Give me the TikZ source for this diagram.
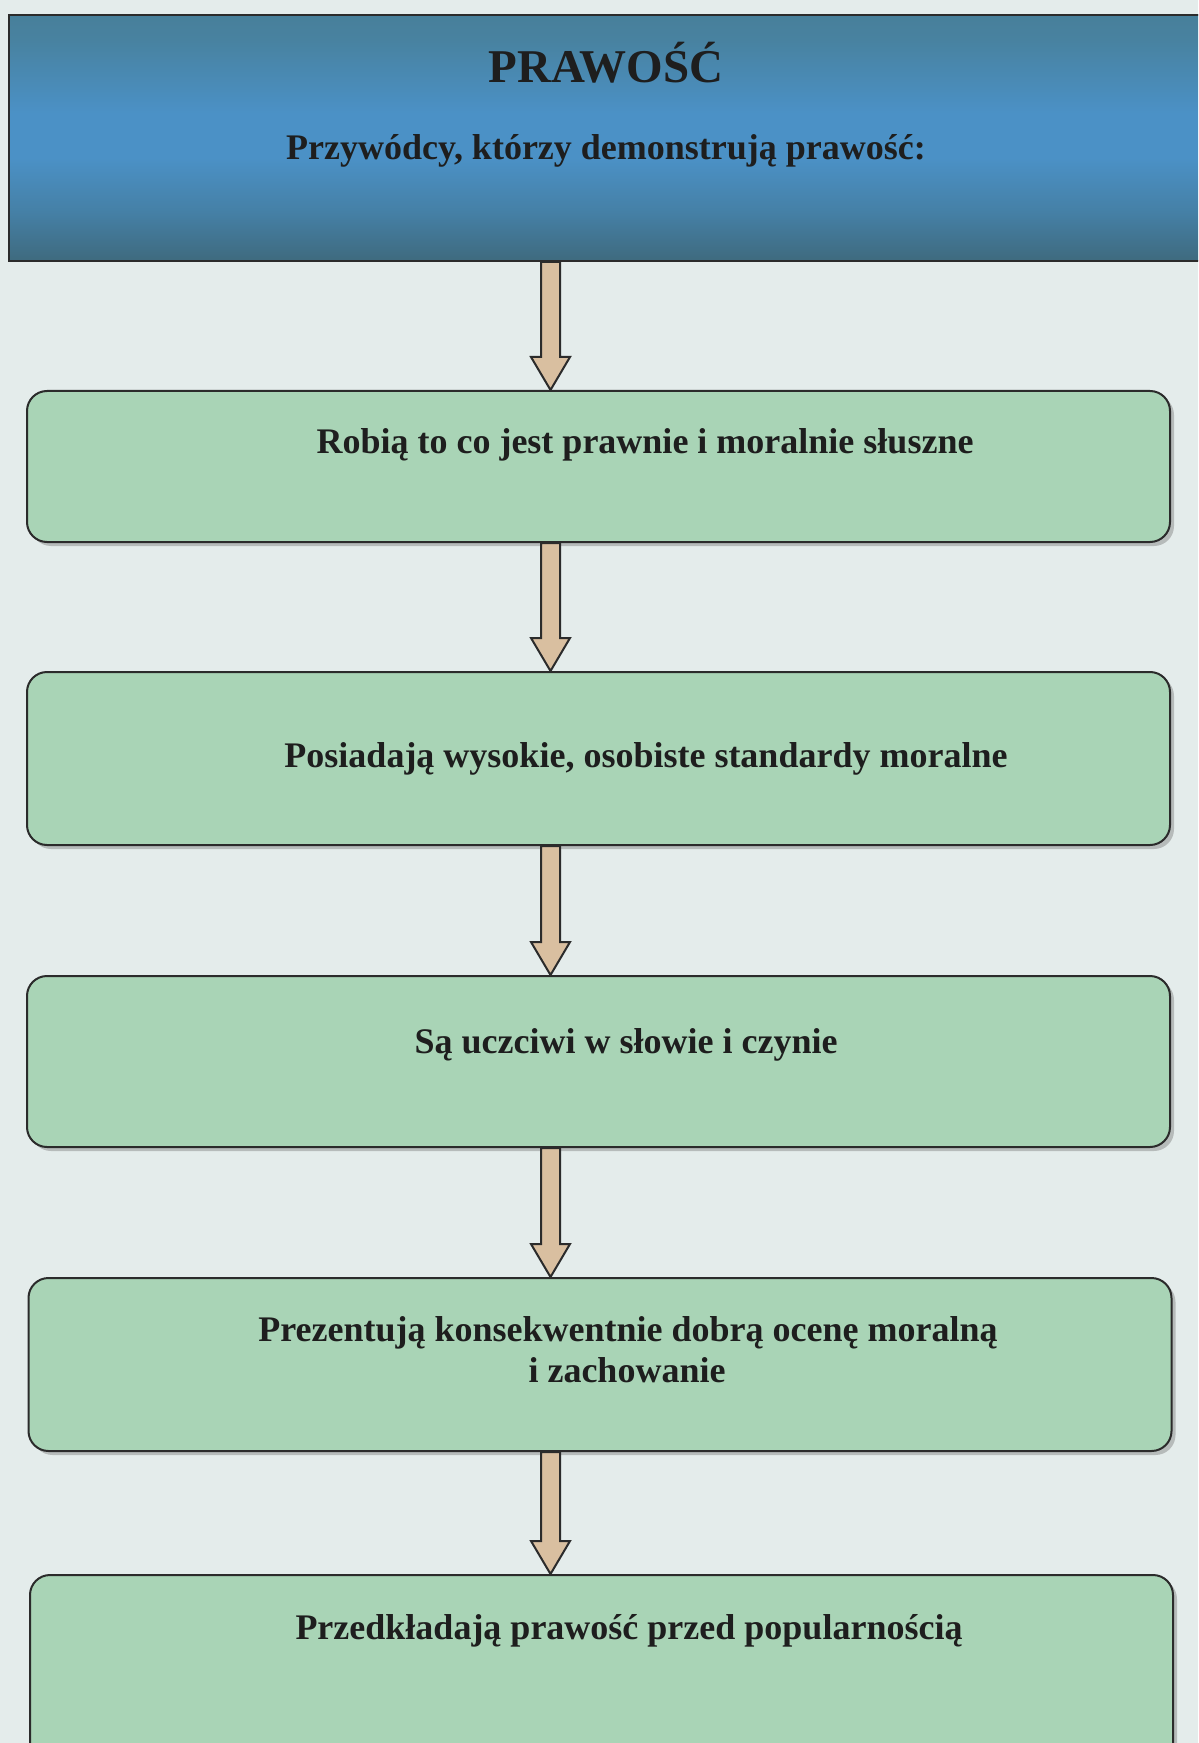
\documentclass[tikz,border=0pt]{standalone}
\usepackage{fontspec}
\setmainfont{Liberation Serif}
\usetikzlibrary{calc,shadows}

\definecolor{pagebg}{HTML}{E4ECEB}
\definecolor{boxgreen}{HTML}{A9D4B6}
\definecolor{edgedark}{HTML}{2B2B2B}
\definecolor{arrowtan}{HTML}{D9BFA0}
\definecolor{inkdark}{HTML}{1E1E1E}

% header gradient: muted teal at the top, bright blue band, dark slate below
\pgfdeclareverticalshading{headshade}{100bp}{%
  color(0bp)=(rgb,255:red,55;green,87;blue,97);
  color(14bp)=(rgb,255:red,58;green,92;blue,103);
  color(24bp)=(rgb,255:red,62;green,104;blue,122);
  color(35bp)=(rgb,255:red,69;green,128;blue,166);
  color(46bp)=(rgb,255:red,75;green,145;blue,198);
  color(55bp)=(rgb,255:red,75;green,145;blue,198);
  color(70bp)=(rgb,255:red,72;green,130;blue,160);
  color(85bp)=(rgb,255:red,70;green,122;blue,143);
  color(100bp)=(rgb,255:red,66;green,114;blue,132)}

\tikzset{
  greenbox/.style={draw=edgedark, line width=1pt, fill=boxgreen,
    rounded corners=10pt, minimum width=571.5pt, inner sep=0pt,
    drop shadow={shadow xshift=2pt, shadow yshift=-2pt, opacity=0.45}},
  headbox/.style={draw=edgedark, line width=1pt, shading=headshade,
    minimum width=603pt, minimum height=123pt, inner sep=0pt},
  tanarrow/.style={draw=edgedark, line width=1pt, fill=arrowtan, line join=miter},
  boxtext/.style={text=inkdark, font=\bfseries\fontsize{18pt}{20.5pt}\selectfont,
    inner sep=0pt, anchor=base},
  titletext/.style={text=inkdark, font=\bfseries\fontsize{23.5pt}{26pt}\selectfont,
    inner sep=0pt, anchor=base},
}

% broad downward arrow between two nodes, on the common axis (ax)
\newcommand\fatarrow[2]{%
  \filldraw[tanarrow] let \p1=(#1.south -| ax), \p2=(#2.north -| ax) in
    (\x1-4.75pt,\y1) -- (\x1-4.75pt,\y2+16.5pt) -- (\x1-9.75pt,\y2+16.5pt)
    -- (\x1,\y2) -- (\x1+9.75pt,\y2+16.5pt) -- (\x1+4.75pt,\y2+16.5pt)
    -- (\x1+4.75pt,\y1) -- cycle;}

\begin{document}
\begin{tikzpicture}[x=0.5pt, y=-0.5pt]
  \useasboundingbox (0,0) rectangle (1198,1743);
  \clip (0,0) rectangle (1198,1743);
  \fill[pagebg] (0,0) rectangle (1198,1743);

  \coordinate (ax) at (550.5,0);

  % header
  \node[headbox] (h) at (612,138) {};
  \node[titletext] (title) at (606,83) {PRAWOŚĆ};
  \node[boxtext] (sub) at (606,160) {Przywódcy, którzy demonstrują prawość:};

  % steps
  \node[greenbox, minimum height=75.5pt] (b1) at (598.5,466.5) {};
  \node[greenbox, minimum height=86.5pt] (b2) at (598.5,758.5) {};
  \node[greenbox, minimum height=85.5pt] (b3) at (598.5,1061.5) {};
  \node[greenbox, minimum height=86.5pt] (b4) at (600,1364.5) {};
  \node[greenbox, minimum height=95pt]   (b5) at (601.5,1670) {};

  \node[boxtext] (t1) at (645,453) {Robią to co jest prawnie i moralnie słuszne};
  \node[boxtext] (t2) at (646,767) {Posiadają wysokie, osobiste standardy moralne};
  \node[boxtext] (t3) at (626,1053) {Są uczciwi w słowie i czynie};
  \node[boxtext] (t4a) at (628,1341) {Prezentują konsekwentnie dobrą ocenę moralną};
  \node[boxtext] (t4b) at (627,1382) {i zachowanie};
  \node[boxtext] (t5) at (629,1639) {Przedkładają prawość przed popularnością};

  % connectors
  \fatarrow{h}{b1}
  \fatarrow{b1}{b2}
  \fatarrow{b2}{b3}
  \fatarrow{b3}{b4}
  \fatarrow{b4}{b5}
\end{tikzpicture}
\end{document}
